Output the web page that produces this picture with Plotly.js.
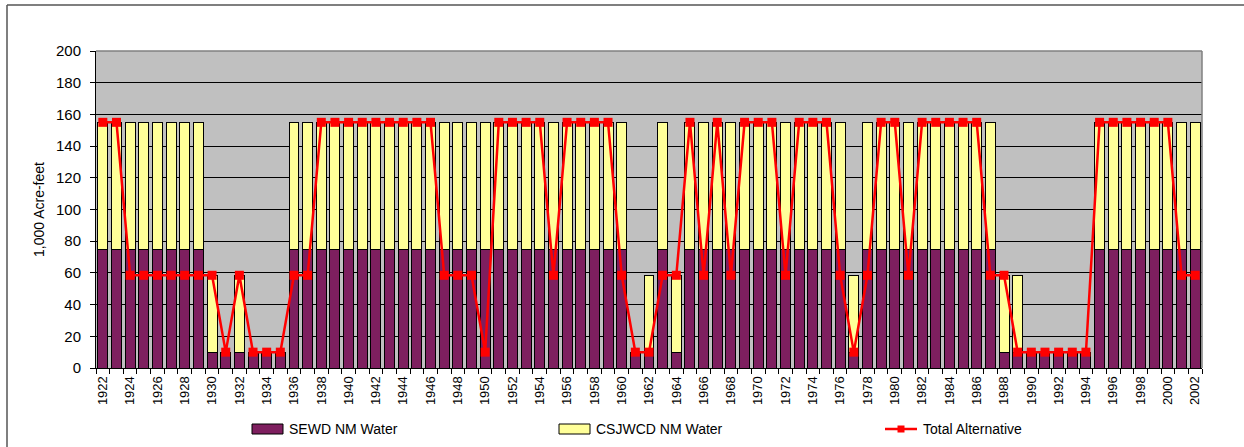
<!DOCTYPE html>
<html>
<head>
<meta charset="utf-8">
<script src="https://cdn.plot.ly/plotly-3.0.1.min.js"></script>
<style>
  html, body { margin: 0; padding: 0; background: #ffffff; }
  #chart { width: 1244px; height: 447px; }
</style>
</head>
<body>
<div id="chart"></div>
<script>
// Water year categories
const years = [
  1922, 1923, 1924, 1925, 1926, 1927, 1928, 1929, 1930, 1931,
  1932, 1933, 1934, 1935, 1936, 1937, 1938, 1939, 1940, 1941,
  1942, 1943, 1944, 1945, 1946, 1947, 1948, 1949, 1950, 1951,
  1952, 1953, 1954, 1955, 1956, 1957, 1958, 1959, 1960, 1961,
  1962, 1963, 1964, 1965, 1966, 1967, 1968, 1969, 1970, 1971,
  1972, 1973, 1974, 1975, 1976, 1977, 1978, 1979, 1980, 1981,
  1982, 1983, 1984, 1985, 1986, 1987, 1988, 1989, 1990, 1991,
  1992, 1993, 1994, 1995, 1996, 1997, 1998, 1999, 2000, 2001,
  2002
];

// SEWD NM Water (1,000 acre-feet)
const sewdNM = [
  75, 75, 75, 75, 75, 75, 75, 75, 10, 10,
  10, 10, 10, 10, 75, 75, 75, 75, 75, 75,
  75, 75, 75, 75, 75, 75, 75, 75, 75, 75,
  75, 75, 75, 75, 75, 75, 75, 75, 75, 10,
  10, 75, 10, 75, 75, 75, 75, 75, 75, 75,
  75, 75, 75, 75, 75, 10, 75, 75, 75, 75,
  75, 75, 75, 75, 75, 75, 10, 10, 10, 10,
  10, 10, 10, 75, 75, 75, 75, 75, 75, 75,
  75
];

// CSJWCD NM Water (1,000 acre-feet)
const csjwcdNM = [
  80, 80, 80, 80, 80, 80, 80, 80, 48.5, 0,
  48.5, 0, 0, 0, 80, 80, 80, 80, 80, 80,
  80, 80, 80, 80, 80, 80, 80, 80, 80, 80,
  80, 80, 80, 80, 80, 80, 80, 80, 80, 0,
  48.5, 80, 48.5, 80, 80, 80, 80, 80, 80, 80,
  80, 80, 80, 80, 80, 48.5, 80, 80, 80, 80,
  80, 80, 80, 80, 80, 80, 48.5, 48.5, 0, 0,
  0, 0, 0, 80, 80, 80, 80, 80, 80, 80,
  80
];

// Total Alternative (1,000 acre-feet)
const totalAlt = [
  155, 155, 58.5, 58.5, 58.5, 58.5, 58.5, 58.5, 58.5, 10,
  58.5, 10, 10, 10, 58.5, 58.5, 155, 155, 155, 155,
  155, 155, 155, 155, 155, 58.5, 58.5, 58.5, 10, 155,
  155, 155, 155, 58.5, 155, 155, 155, 155, 58.5, 10,
  10, 58.5, 58.5, 155, 58.5, 155, 58.5, 155, 155, 155,
  58.5, 155, 155, 155, 58.5, 10, 58.5, 155, 155, 58.5,
  155, 155, 155, 155, 155, 58.5, 58.5, 10, 10, 10,
  10, 10, 10, 155, 155, 155, 155, 155, 155, 58.5,
  58.5
];

const seriesNames = ['SEWD NM Water', 'CSJWCD NM Water', 'Total Alternative'];
const colors = { sewd: '#7E1F5F', csjwcd: '#FFFF99', total: '#FF0000' };

const FONT = 'Liberation Sans, Arial, sans-serif';

// Plot-area geometry in pixels, used to place the hand-drawn legend and frame
const W = 1244, H = 447;
const M = { l: 96, r: 42, t: 51, b: 79 };
const plotW = W - M.l - M.r;
const plotH = H - M.t - M.b;
const px = x => (x - M.l) / plotW;
const py = y => (H - M.b - y) / plotH;

const traces = [
  {
    type: 'bar', name: seriesNames[0], x: years, y: sewdNM,
    marker: { color: colors.sewd, line: { color: '#000000', width: 1 } },
    showlegend: false, hoverinfo: 'x+y+name'
  },
  {
    type: 'bar', name: seriesNames[1], x: years, y: csjwcdNM,
    marker: { color: colors.csjwcd, line: { color: '#000000', width: 1 } },
    showlegend: false, hoverinfo: 'x+y+name'
  },
  {
    type: 'scatter', mode: 'lines+markers', name: seriesNames[2], x: years, y: totalAlt,
    line: { color: colors.total, width: 2.5 },
    marker: { symbol: 'square', size: 9, color: colors.total },
    showlegend: false, hoverinfo: 'x+y+name'
  }
];

// Legend entries: swatch + label, laid out along the bottom
const legendY = 429;
const legendItems = [
  { kind: 'box', x0: 252, x1: 283, fill: colors.sewd, label: seriesNames[0], tx: 287 },
  { kind: 'box', x0: 559, x1: 590, fill: colors.csjwcd, label: seriesNames[1], tx: 594 },
  { kind: 'line', x0: 885, x1: 917, fill: colors.total, label: seriesNames[2], tx: 921 }
];

const shapes = [
  // outer chart frame (top and left edges)
  { type: 'line', xref: 'paper', yref: 'paper', x0: px(7), x1: px(1250), y0: py(5), y1: py(5),
    line: { color: '#555555', width: 1.5 } },
  { type: 'line', xref: 'paper', yref: 'paper', x0: px(7), x1: px(7), y0: py(5), y1: py(455),
    line: { color: '#555555', width: 1.5 } },
  // plot-area border (top and right)
  { type: 'line', xref: 'paper', yref: 'paper', x0: 0, x1: 1, y0: 1, y1: 1,
    line: { color: '#808080', width: 1.5 } },
  { type: 'line', xref: 'paper', yref: 'paper', x0: 1, x1: 1, y0: 0, y1: 1,
    line: { color: '#808080', width: 1.5 } }
];
const annotations = [];

legendItems.forEach(it => {
  if (it.kind === 'box') {
    shapes.push({
      type: 'rect', xref: 'paper', yref: 'paper',
      x0: px(it.x0), x1: px(it.x1), y0: py(legendY - 5), y1: py(legendY + 5),
      fillcolor: it.fill, line: { color: '#000000', width: 1 }
    });
  } else {
    shapes.push({
      type: 'line', xref: 'paper', yref: 'paper',
      x0: px(it.x0), x1: px(it.x1), y0: py(legendY), y1: py(legendY),
      line: { color: it.fill, width: 2.5 }
    });
    const mid = (it.x0 + it.x1) / 2;
    shapes.push({
      type: 'rect', xref: 'paper', yref: 'paper',
      x0: px(mid - 3.5), x1: px(mid + 3.5), y0: py(legendY - 3.5), y1: py(legendY + 3.5),
      fillcolor: it.fill, line: { width: 0 }
    });
  }
  annotations.push({
    xref: 'paper', yref: 'paper', x: px(it.tx), y: py(legendY),
    xanchor: 'left', yanchor: 'middle', showarrow: false,
    text: it.label, font: { family: FONT, size: 14, color: '#000000' }
  });
});

const layout = {
  width: W, height: H,
  margin: M,
  paper_bgcolor: '#ffffff',
  plot_bgcolor: '#C0C0C0',
  barmode: 'stack',
  bargap: 0.27,
  showlegend: false,
  font: { family: FONT, size: 13, color: '#000000' },
  xaxis: {
    type: 'linear',
    range: [1921.5, 2002.5],
    tick0: 1922, dtick: 2,
    ticks: '', tickangle: -90,
    ticklabelstandoff: 2,
    tickfont: { family: FONT, size: 13, color: '#000000' },
    showgrid: false, zeroline: false,
    showline: true, linecolor: '#000000', linewidth: 1,
    minor: { tick0: 1921.5, dtick: 1, ticks: 'outside', ticklen: 5, tickcolor: '#000000', tickwidth: 1, showgrid: false },
    fixedrange: true
  },
  yaxis: {
    range: [0, 200], dtick: 20,
    ticks: 'outside', ticklen: 5, tickcolor: '#000000',
    ticklabelstandoff: 6,
    tickfont: { family: FONT, size: 15, color: '#000000' },
    showgrid: true, gridcolor: '#000000', gridwidth: 1,
    zeroline: false,
    showline: true, linecolor: '#000000', linewidth: 1,
    title: { text: '1,000 Acre-feet', font: { family: FONT, size: 14, color: '#000000' }, standoff: 8 },
    fixedrange: true
  },
  shapes: shapes,
  annotations: annotations
};

Plotly.newPlot('chart', traces, layout, { displayModeBar: false, staticPlot: true });
</script>
</body>
</html>
